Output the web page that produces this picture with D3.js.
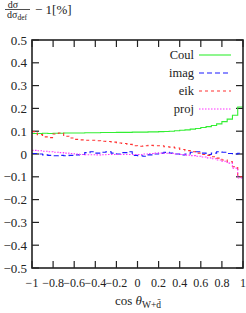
<!DOCTYPE html>
<html>
<head>
<meta charset="utf-8">
<script src="https://cdn.jsdelivr.net/npm/d3@7"></script>
<style>
  body { margin: 0; background: #fff; }
</style>
</head>
<body>
<div class="chart"></div>
<script>
// bin centres, width 0.05
const binCenters = d3.range(40).map(i => -0.975 + i * 0.05);

const coulValues = [0.090, 0.090, 0.091, 0.090, 0.091, 0.091, 0.092, 0.092, 0.092, 0.092,
  0.093, 0.093, 0.093, 0.094, 0.094, 0.094, 0.095, 0.095, 0.095, 0.096,
  0.096, 0.096, 0.097, 0.097, 0.098, 0.099, 0.100, 0.102, 0.104, 0.106,
  0.109, 0.112, 0.116, 0.120, 0.125, 0.132, 0.142, 0.153, 0.170, 0.206];

const imagValues = [0.002, 0.000, -0.004, -0.006, -0.008, -0.006, -0.008, -0.006, -0.004, -0.002,
  0.006, 0.010, 0.004, 0.008, 0.010, 0.004, 0.000, 0.006, 0.010, -0.006,
  -0.008, -0.010, -0.004, 0.000, 0.004, 0.007, 0.004, 0.000, -0.004, 0.000,
  0.008, 0.010, 0.004, -0.002, 0.004, 0.010, 0.008, 0.002, 0.000, 0.003];

const eikValues = [0.098, 0.085, 0.075, 0.072, 0.088, 0.092, 0.078, 0.070, 0.064, 0.062,
  0.060, 0.060, 0.058, 0.056, 0.055, 0.052, 0.048, 0.046, 0.042, 0.036,
  0.034, 0.036, 0.038, 0.036, 0.036, 0.032, 0.030, 0.026, 0.020, 0.015,
  0.010, 0.004, -0.002, -0.006, -0.012, -0.018, -0.026, -0.034, -0.056, -0.100];

const projValues = [0.016, 0.014, 0.012, 0.010, 0.008, 0.006, 0.004, 0.002, 0.000, -0.002,
  -0.003, -0.003, -0.004, -0.003, -0.002, -0.002, -0.002, -0.002, -0.002, -0.002,
  -0.002, 0.000, 0.002, 0.004, 0.004, 0.003, 0.002, 0.000, -0.002, -0.005,
  -0.007, -0.010, -0.013, -0.017, -0.021, -0.026, -0.032, -0.040, -0.062, -0.105];

const seriesNames = ['Coul', 'imag', 'eik', 'proj'];
const xTicks = d3.range(-1, 1.0001, 0.2).map(v => Math.round(v * 10) / 10);
const yTicks = d3.range(-0.5, 0.5001, 0.1).map(v => Math.round(v * 10) / 10);

const width = 246;
const height = 313;
const binWidth = 0.05;
const serif = "'Times New Roman', 'Liberation Serif', Times, 'DejaVu Serif', serif";

const svg = d3.select('.chart')
    .append('svg')
    .attr('width', width)
    .attr('height', height)
    .attr('font-family', serif)
    .style('display', 'block');

const x = d3.scaleLinear().domain([-1, 1]).range([32, 243]);
const y = d3.scaleLinear().domain([-0.5, 0.5]).range([268, 40]);

const fmt = v => {
    const s = String(Math.abs(v));
    return v < 0 ? '\u2212' + s : s;
};

// ticks pointing inwards, on all four sides
const tickLen = 7;
const axes = svg.append('g').attr('stroke', '#222').attr('stroke-width', 1.2);
xTicks.forEach(t => {
    axes.append('line').attr('x1', x(t)).attr('x2', x(t)).attr('y1', y(-0.5)).attr('y2', y(-0.5) - tickLen);
    axes.append('line').attr('x1', x(t)).attr('x2', x(t)).attr('y1', y(0.5)).attr('y2', y(0.5) + tickLen);
});
yTicks.forEach(t => {
    axes.append('line').attr('x1', x(-1)).attr('x2', x(-1) + tickLen).attr('y1', y(t)).attr('y2', y(t));
    axes.append('line').attr('x1', x(1)).attr('x2', x(1) - tickLen).attr('y1', y(t)).attr('y2', y(t));
});

svg.selectAll('.xlab')
    .data(xTicks)
    .enter()
    .append('text')
    .attr('class', 'xlab')
    .attr('x', d => x(d))
    .attr('y', 287)
    .attr('text-anchor', 'middle')
    .attr('font-size', 12)
    .attr('fill', '#222')
    .text(fmt);

svg.selectAll('.ylab')
    .data(yTicks)
    .enter()
    .append('text')
    .attr('class', 'ylab')
    .attr('x', 27)
    .attr('y', d => y(d) + 4.5)
    .attr('text-anchor', 'end')
    .attr('font-size', 13)
    .attr('fill', '#222')
    .text(fmt);

// histogram steps
function stepPoints(vals) {
    const pts = [];
    vals.forEach((v, i) => {
        const c = binCenters[i];
        pts.push([c - binWidth / 2, v]);
        pts.push([c + binWidth / 2, v]);
    });
    return pts;
}

const line = d3.line()
    .x(d => x(d[0]))
    .y(d => y(d[1]));

const series = [
    {name: 'Coul', values: coulValues, color: '#33ee33', dash: null},
    {name: 'imag', values: imagValues, color: '#1a1aff', dash: '5,3'},
    {name: 'eik', values: eikValues, color: '#ff3030', dash: '3,3'},
    {name: 'proj', values: projValues, color: '#ff33ff', dash: '1.5,1.5'}
];

series.forEach(s => {
    svg.append('path')
        .attr('d', line(stepPoints(s.values)))
        .attr('fill', 'none')
        .attr('stroke', s.color)
        .attr('stroke-width', 1.1)
        .attr('stroke-dasharray', s.dash);
});

// frame
svg.append('rect')
    .attr('x', x(-1))
    .attr('y', y(0.5))
    .attr('width', x(1) - x(-1))
    .attr('height', y(-0.5) - y(0.5))
    .attr('fill', 'none')
    .attr('stroke', '#222')
    .attr('stroke-width', 1.6);

// legend
const legend = svg.append('g');
series.forEach((s, i) => {
    const ly = 55 + i * 18;
    legend.append('text')
        .attr('x', 194)
        .attr('y', ly + 4)
        .attr('text-anchor', 'end')
        .attr('font-size', 12.5)
        .attr('fill', '#222')
        .text(seriesNames[i]);
    legend.append('line')
        .attr('x1', 199)
        .attr('x2', 231)
        .attr('y1', ly)
        .attr('y2', ly)
        .attr('stroke', s.color)
        .attr('stroke-width', 1.1)
        .attr('stroke-dasharray', s.dash);
});

// y title: dσ/dσ_def − 1[%]
const yt = svg.append('g').attr('fill', '#222');
yt.append('text').attr('x', 13).attr('y', 7.5).attr('text-anchor', 'middle')
    .attr('font-size', 10).text('dσ');
yt.append('line').attr('x1', 5).attr('x2', 30).attr('y1', 9.5).attr('y2', 9.5)
    .attr('stroke', '#222').attr('stroke-width', 0.8);
const den = yt.append('text').attr('x', 17).attr('y', 17.5).attr('text-anchor', 'middle')
    .attr('font-size', 10);
den.append('tspan').text('dσ');
den.append('tspan').attr('dy', 2).attr('font-size', 7.5).text('def');
yt.append('text').attr('x', 35).attr('y', 14)
    .attr('font-size', 13).text('\u2212 1[%]');

// x title: cos θ_{W+d̄}
const xt = svg.append('text')
    .attr('x', 138)
    .attr('y', 305)
    .attr('text-anchor', 'middle')
    .attr('font-size', 13)
    .attr('fill', '#222');
xt.append('tspan').text('cos ');
xt.append('tspan').attr('font-style', 'italic').text('θ');
xt.append('tspan').attr('dy', 3).attr('font-size', 9.5).text('W+d\u0304');
</script>
</body>
</html>
